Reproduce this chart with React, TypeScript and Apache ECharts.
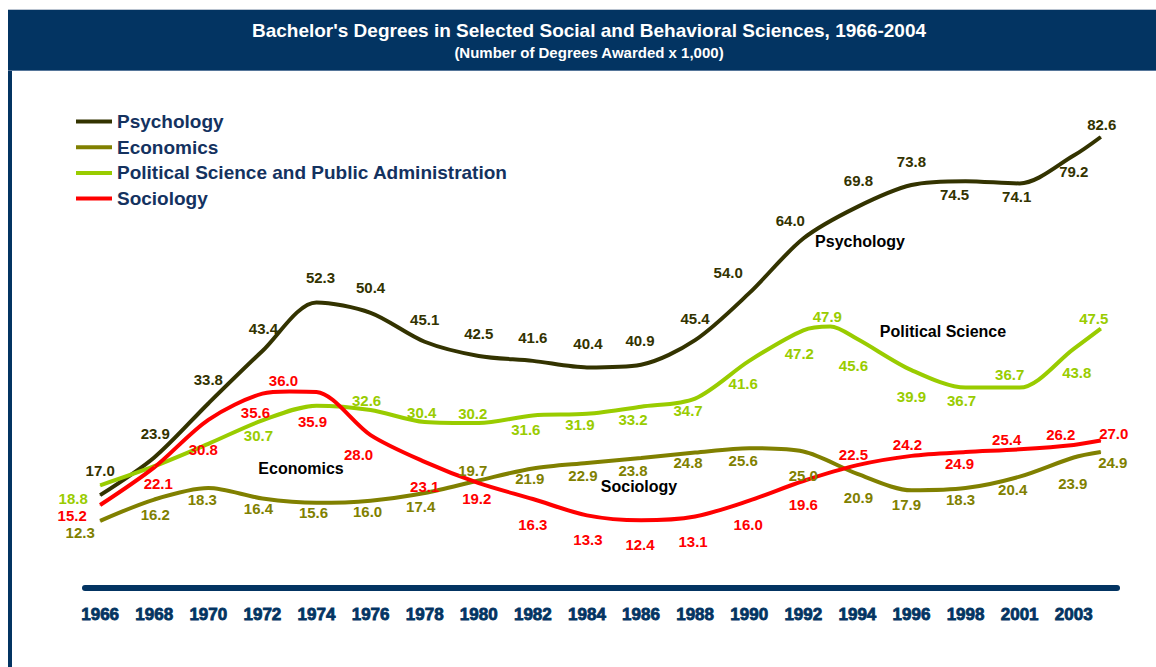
import React, { useEffect, useRef } from 'react';
import * as echarts from 'echarts';

// ---- data ----
const tickLabels = ['1966', '1968', '1970', '1972', '1974', '1976', '1978', '1980', '1982', '1984', '1986', '1988', '1990', '1992', '1994', '1996', '1998', '2001', '2003'];
const tickYears = tickLabels.map(Number);

const years = [1966, 1968, 1970, 1972, 1974, 1976, 1978, 1980, 1982, 1984, 1986, 1988, 1990, 1992, 1994, 1996, 1998, 2001, 2003, 2004];
const psychology = [17.0, 23.9, 33.8, 43.4, 52.3, 50.4, 45.1, 42.5, 41.6, 40.4, 40.9, 45.4, 54.0, 64.0, 69.8, 73.8, 74.5, 74.1, 79.2, 82.6];
const economics = [12.3, 16.2, 18.3, 16.4, 15.6, 16.0, 17.4, 19.7, 21.9, 22.9, 23.8, 24.8, 25.6, 25.0, 20.9, 17.9, 18.3, 20.4, 23.9, 24.9];

const polSciYears = [1966, 1968, 1970, 1972, 1974, 1976, 1978, 1980, 1982, 1984, 1986, 1988, 1990, 1992, 1993, 1994, 1996, 1998, 2001, 2003, 2004];
const polSci = [18.8, 22.3, 26.4, 30.7, 33.4, 32.6, 30.4, 30.2, 31.6, 31.9, 33.2, 34.7, 41.6, 47.2, 47.9, 45.6, 39.9, 36.7, 36.7, 43.8, 47.5];
const polSciUnlabeled = [1968, 1970, 1974];

const sociologyYears = [1966, 1968, 1970, 1972, 1973, 1974, 1976, 1978, 1980, 1982, 1984, 1986, 1988, 1990, 1992, 1994, 1996, 1998, 2001, 2003, 2004];
const sociology = [15.2, 22.1, 30.8, 35.6, 36.0, 35.9, 28.0, 23.1, 19.2, 16.3, 13.3, 12.4, 13.1, 16.0, 19.6, 22.5, 24.2, 24.9, 25.4, 26.2, 27.0];

// ---- label placement (layout only) ----
const psychOffsets = [[0, -25], [1, -24], [0, -24], [1, -23], [4, -25], [0, -25], [0, -22], [0, -22], [0, -23], [1, -24], [-1, -24], [0, -22], [-21, -21], [-13, -18], [1, -26], [0, -24], [-11, 13], [-3, 13], [0, 16], [1, -13]];
const econOffsets = [[-20, 12], [1, 15], [-6, 11], [-4, 10], [-3, 10], [-3, 11], [-4, 14], [-6, -10], [-3, 10], [-4, 13], [-8, 12], [-7, 10], [-6, 12], [0, 24], [1, 24], [-5, 14], [-5, 11], [-7, 13], [-1, 26], [12, 10]];
const polOffsets = [[-27, 13], [0, 0], [0, 0], [-4, 15], [0, 0], [-4, -10], [-3, -10], [-6, -10], [-7, 14], [-7, 11], [-8, 13], [-7, 12], [-6, 23], [-4, 23], [-3, -10], [-4, 26], [0, 26], [-4, 13], [-10, -13], [3, 24], [-7, -10]];
const socOffsets = [[-28, 10], [4, 16], [-5, 30], [-7, 19], [-6, -11], [-4, 30], [-12, 19], [0, 25], [-2, 15], [0, 25], [1, 24], [-1, 24], [-2, 25], [-1, 24], [0, 24], [-4, -11], [-4, -11], [-6, 11], [-13, -10], [-13, -10], [13, -7]];

const NAVY = '#033462';
const LABEL_FONT = '"Liberation Sans", Arial, sans-serif';

function yearToPos(y: number): number {
  for (let i = 0; i < tickYears.length - 1; i++) {
    if (y <= tickYears[i + 1]) return i + (y - tickYears[i]) / (tickYears[i + 1] - tickYears[i]);
  }
  const n = tickYears.length - 1;
  return n + (y - tickYears[n]) / (tickYears[n] - tickYears[n - 1]);
}

function buildSeries(name: string, color: string, ys: number[], vals: number[], offsets: number[][], hidden: number[] = []) {
  return {
    name,
    type: 'line',
    smooth: 0.3,
    symbol: 'circle',
    symbolSize: 1,
    lineStyle: { color, width: 4 },
    itemStyle: { color },
    emphasis: { disabled: true },
    label: {
      show: true,
      color,
      fontFamily: LABEL_FONT,
      fontWeight: 'bold',
      fontSize: 15,
      formatter: (p: any) => Number(p.value[1]).toFixed(1),
    },
    data: ys.map((y, i) => ({
      value: [yearToPos(y), vals[i]],
      label: hidden.indexOf(y) >= 0 ? { show: false } : { show: true, position: 'inside', offset: offsets[i] },
    })),
  };
}

export default function App() {
  const ref = useRef<HTMLDivElement>(null);
  useEffect(() => {
    if (!ref.current) return;
    const chart = echarts.init(ref.current, undefined, { renderer: 'svg' });
    const annotation = (text: string, x: number, y: number) => ({
      type: 'text',
      x,
      y,
      z: 100,
      style: { text, fill: '#000', font: 'bold 16px "Liberation Sans", Arial, sans-serif', align: 'center', verticalAlign: 'middle' },
    });
    chart.setOption({
      animation: false,
      backgroundColor: '#ffffff',
      grid: { left: 85, right: 39, top: 96.6, bottom: 79, containLabel: false },
      xAxis: {
        type: 'value',
        min: -0.28,
        max: 18.8,
        splitLine: { show: false },
        axisTick: { show: false },
        axisLine: { show: true, lineStyle: { color: NAVY, width: 6 } },
        axisLabel: {
          customValues: tickLabels.map((_, i) => i),
          formatter: (v: number) => tickLabels[Math.round(v)] ?? '',
          color: NAVY,
          fontFamily: LABEL_FONT,
          fontWeight: 'bold',
          fontSize: 17,
          lineHeight: 18,
          margin: 17,
          textBorderColor: NAVY,
          textBorderWidth: 0.8,
        },
      },
      yAxis: { type: 'value', min: 0, max: 90, show: false, splitLine: { show: false } },
      legend: {
        orient: 'vertical',
        left: 71,
        top: 107,
        itemWidth: 36,
        itemHeight: 4,
        itemGap: 6.7,
        icon: 'rect',
        textStyle: { color: '#14325f', fontFamily: LABEL_FONT, fontWeight: 'bold', fontSize: 19, lineHeight: 19 },
        data: ['Psychology', 'Economics', 'Political Science and Public Administration', 'Sociology'],
      },
      graphic: [
        { type: 'rect', shape: { x: 8, y: 9, width: 1148, height: 1 }, style: { fill: '#b9c3d0' } },
        { type: 'rect', shape: { x: 8, y: 10, width: 1148, height: 61 }, style: { fill: NAVY } },
        { type: 'rect', shape: { x: 8, y: 70, width: 1148, height: 1 }, style: { fill: '#56769a' } },
        { type: 'rect', shape: { x: 8, y: 71, width: 4, height: 596 }, style: { fill: NAVY } },
        {
          type: 'text', x: 589, y: 30,
          style: { text: "Bachelor's Degrees in Selected Social and Behavioral Sciences, 1966-2004", fill: '#ffffff', font: 'bold 19px "Liberation Sans", Arial, sans-serif', align: 'center', verticalAlign: 'middle' },
        },
        {
          type: 'text', x: 589, y: 52,
          style: { text: '(Number of Degrees Awarded x 1,000)', fill: '#ffffff', font: 'bold 15px "Liberation Sans", Arial, sans-serif', align: 'center', verticalAlign: 'middle' },
        },
        annotation('Psychology', 860, 241),
        annotation('Political Science', 943, 331),
        annotation('Economics', 301, 468),
        annotation('Sociology', 639, 486),
      ],
      series: [
        buildSeries('Psychology', '#333300', years, psychology, psychOffsets),
        buildSeries('Economics', '#808000', years, economics, econOffsets),
        buildSeries('Political Science and Public Administration', '#99cc00', polSciYears, polSci, polOffsets, polSciUnlabeled),
        buildSeries('Sociology', '#ff0000', sociologyYears, sociology, socOffsets),
      ],
    });
    return () => chart.dispose();
  }, []);
  return <div ref={ref} style={{ position: 'absolute', left: 0, top: 0, width: 1156, height: 667 }} />;
}
